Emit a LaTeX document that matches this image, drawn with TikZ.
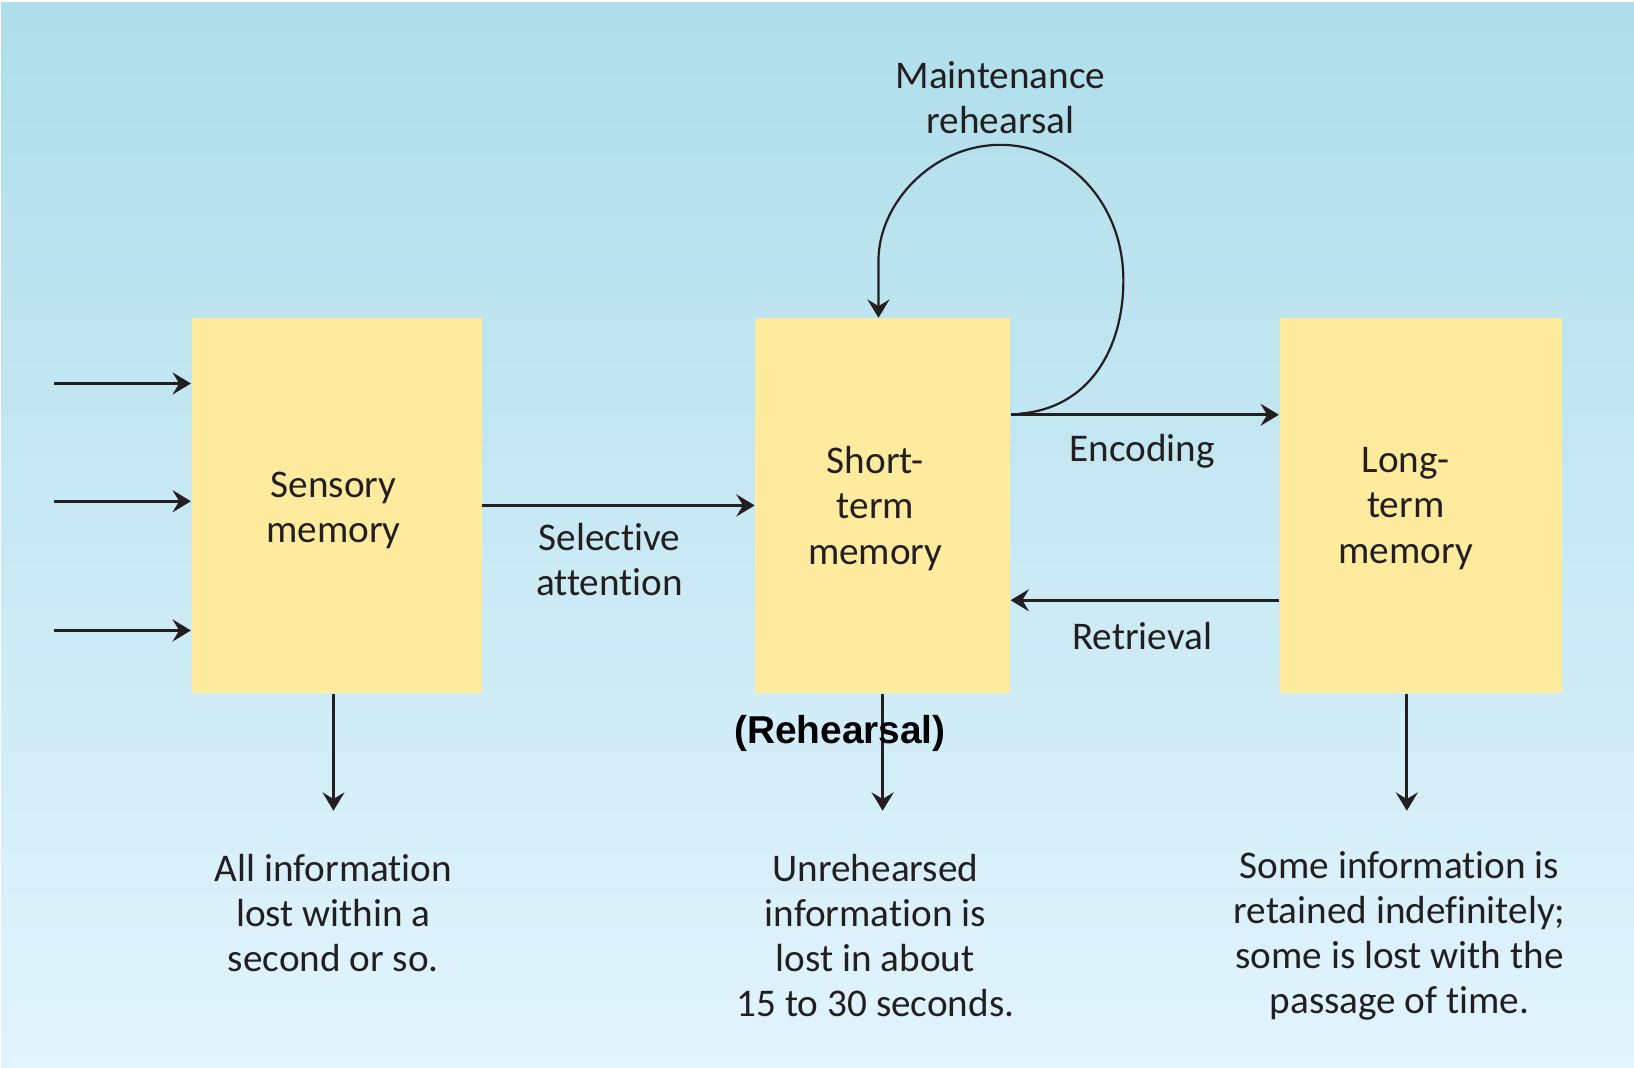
\documentclass[tikz,border=0pt]{standalone}
\usepackage{fontspec}
\setmainfont{Carlito}[Ligatures=NoCommon]
\newfontfamily\arialfont{Liberation Sans}
\usetikzlibrary{arrows.meta}
\definecolor{bgtop}{RGB}{174,222,234}
\definecolor{bgbot}{RGB}{226,244,253}
\definecolor{boxyellow}{RGB}{255,235,157}
\definecolor{ink}{RGB}{35,31,32}
\tikzset{
  memorybox/.style={fill=boxyellow, draw=none, inner sep=0pt},
  txt/.style={text=ink, align=center, inner sep=0pt, font=\fontsize{10.7}{12.3}\selectfont},
  arr/.style={draw=ink, line width=0.85pt, -{Stealth[length=5pt,width=6pt,inset=1.8pt]}},
  looparr/.style={draw=ink, line width=0.6pt, -{Stealth[length=5pt,width=6pt,inset=1.8pt]}},
}
\begin{document}
\begin{tikzpicture}[x=0.01cm,y=-0.01cm]
\useasboundingbox (0,0) rectangle (1568,1024);
\fill[white] (0,0) rectangle (1568,1024);
\shade[top color=bgtop, bottom color=bgbot] (1,2) rectangle (1568,1024);

% boxes
\node[memorybox, minimum width=2.78cm, minimum height=3.6cm] (sm) at (323,485) {};
\node[memorybox, minimum width=2.44cm, minimum height=3.6cm] (stm) at (847,485) {};
\node[memorybox, minimum width=2.71cm, minimum height=3.6cm] (ltm) at (1363.5,485) {};

% box texts
\node[txt] (smt) at (320,490) {Sensory\\memory};
\node[txt] (stmt) at (840,488) {Short-\\term\\memory};
\node[txt] (ltmt) at (1349,488) {Long-\\term\\memory};

% input arrows
\coordinate (in1) at (52,368);
\coordinate (in2) at (52,481);
\coordinate (in3) at (52,605);
\draw[arr] (in1) -- (in1 -| sm.west);
\draw[arr] (in2) -- (in2 -| sm.west);
\draw[arr] (in3) -- (in3 -| sm.west);

% selective attention
\draw[arr] (sm.east) -- (stm.west);
\node[txt] (sel) at (585,537) {Selective\\attention};

% encoding / retrieval
\coordinate (enc) at (1100,398);
\coordinate (ret) at (1100,576);
\draw[arr] (enc -| stm.east) -- (enc -| ltm.west);
\draw[arr] (ret -| ltm.west) -- (ret -| stm.east);
\node[txt] (enct) at (1096,433) {Encoding};
\node[txt] (rett) at (1096,610) {Retrieval};

% maintenance rehearsal loop
\coordinate (ls) at (978,397);
\coordinate (le) at (843,305);
\draw[looparr] (ls) .. controls (1045,392) and (1078,335) .. (1078,269)
  .. controls (1078,195) and (1025,139) .. (960,139)
  .. controls (895,139) and (843,195) .. (843,250) -- (le);
\node[txt] (mr) at (960,94) {Maintenance\\rehearsal};

% down arrows
\coordinate (d1) at (320,778);
\coordinate (d2) at (847,778);
\coordinate (d3) at (1350,778);
\draw[arr] (d1 |- sm.south) -- (d1);
\draw[arr] (d2 |- stm.south) -- (d2);
\draw[arr] (d3 |- ltm.south) -- (d3);

\node[text=black, inner sep=0pt, font=\arialfont\bfseries\fontsize{10.6}{12}\selectfont] (reh) at (806,704) {(Rehearsal)};

% bottom texts
\node[txt] (b1) at (320,876) {All information\\lost within a\\second or so.};
\node[txt] (b2) at (840,898) {Unrehearsed\\information is\\lost in about\\15 to 30 seconds.};
\node[txt] (b3) at (1343,898) {Some information is\\retained indefinitely;\\some is lost with the\\passage of time.};
\end{tikzpicture}
\end{document}
